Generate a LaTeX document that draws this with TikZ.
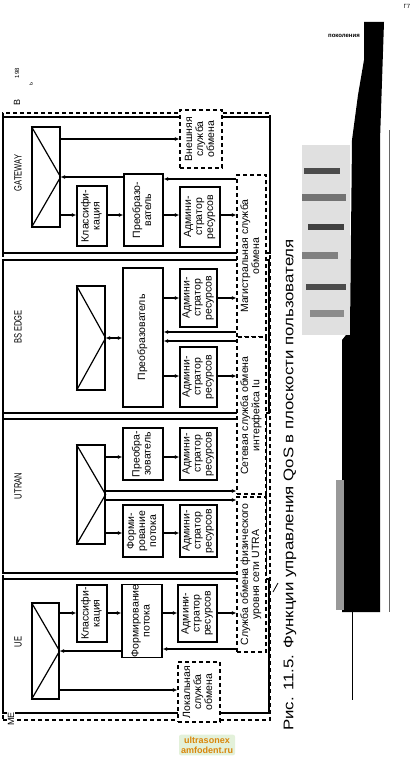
\documentclass[tikz,border=0pt]{standalone}
\usepackage{fontspec}
\setmainfont{Liberation Sans}
\newfontfamily\narrowfont{Liberation Sans}[FakeStretch=0.72]
\newfontfamily\capfont{Liberation Sans}[FakeStretch=1.2]
\usepackage{graphicx}
\usetikzlibrary{arrows.meta, positioning, calc}
\definecolor{wmtext}{HTML}{D9860A}
\definecolor{wmback}{HTML}{E3F1DA}
\newcommand{\vtxt}[1]{\rotatebox{90}{\begin{tabular}{@{}c@{}}#1\end{tabular}}}
\tikzset{
  spot/.style args={#1/#2/#3/#4}{
    at={({(#1+#3)/2},{(#2+#4)/2})},
    minimum width={#3-#1}, minimum height={#4-#2}
  },
  blk/.style={
    rectangle, draw=black, line width=1.4pt, fill=white,
    inner sep=0pt, font={\fontsize{10.5}{11}\selectfont}
  },
  svc/.style={
    rectangle, draw=black, line width=1.2pt, fill=white,
    dash pattern=on 4pt off 3pt, inner sep=0pt,
    font={\fontsize{10.5}{11}\selectfont}
  },
  dom/.style={rectangle, draw=black, line width=1.6pt, inner sep=0pt},
  mux/.style={rectangle, draw=black, line width=1.2pt, fill=white, inner sep=0pt},
  arr/.style={line width=1.2pt, -{Latex[length=4.5pt,width=4pt]}},
  darr/.style={line width=1.2pt, {Latex[length=4.5pt,width=4pt]}-{Latex[length=4.5pt,width=4pt]}}
}
\begin{document}
\begin{tikzpicture}[
    x=1pt, y=-1pt,
    lbl/.style={rotate=90, inner sep=0pt, font={\narrowfont\fontsize{10.5}{11}\selectfont}},
    frm/.style={rectangle, draw=black, line width=1.3pt, dash pattern=on 4pt off 3pt, inner sep=0pt}
  ]
  \useasboundingbox (0,0) rectangle (414,768);

  \node[frm, spot={3/113/270/720}] (frame) {};
  \node[dom, spot={3/117/270/253}] (gw) {};
  \node[dom, spot={3/260/269/413}] (bs) {};
  \node[dom, spot={3/419/266/573}] (ut) {};
  \node[dom, spot={3/579/269/713}] (ue) {};

  \node[lbl] (gwlbl) at (18,173) {GATEWAY};
  \node[lbl] (bslbl) at (18,327) {BS EDGE};
  \node[lbl] (utlbl) at (18,486) {UTRAN};
  \node[lbl] (uelbl) at (18,642) {UE};

  \node[mux, spot={32/127/60/227}] (gwmux) {};
  \node[blk, spot={77/186/107/246}]  (gwcls)  {\vtxt{Классифи-\\кация}};
  \node[blk, spot={124/174/163/246}] (gwconv) {\vtxt{Преобразо-\\ватель}};
  \node[blk, spot={180/187/220/247}] (gwadm)  {\vtxt{Админи-\\стратор\\ресурсов}};

  \node[mux, spot={77/286/105/390}] (bsmux) {};
  \node[blk, spot={123/268/163/407}] (bsconv) {\vtxt{Преобразователь}};
  \node[blk, spot={180/269/217/327}] (bsadm1) {\vtxt{Админи-\\стратор\\ресурсов}};
  \node[blk, spot={180/347/217/407}] (bsadm2) {\vtxt{Админи-\\стратор\\ресурсов}};

  \node[mux, spot={77/445/105/544}] (utmux) {};
  \node[blk, spot={123/428/163/480}] (utconv) {\vtxt{Преобра-\\зователь}};
  \node[blk, spot={180/428/217/480}] (utadm1) {\vtxt{Админи-\\стратор\\ресурсов}};
  \node[blk, spot={123/505/163/557}] (utform) {\vtxt{Форми-\\рование\\потока}};
  \node[blk, spot={180/505/217/557}] (utadm2) {\vtxt{Админи-\\стратор\\ресурсов}};

  \node[mux, spot={32/603/59/699}] (uemux) {};
  \node[blk, spot={77/585/107/642}]  (uecls)  {\vtxt{Классифи-\\кация}};
  \node[blk, spot={122/585/162/657}] (ueform) {\vtxt{Формирование\\потока}};
  \node[blk, spot={178/585/217/642}] (ueadm)  {\vtxt{Админи-\\стратор\\ресурсов}};

  \foreach \m in {gwmux, bsmux, utmux, uemux}
    \draw[line width=1.2pt] (\m.north west) -- (\m.east) -- (\m.south west);

  \node[svc, spot={180/110/222/168}] (extsvc) {\vtxt{Внешняя\\служба\\обмена}};
  \node[svc, spot={237/175/266/337}] (magsvc) {\vtxt{Магистральная служба\\обмена}};
  \node[svc, spot={237/337/266/494}] (netsvc) {\vtxt{Сетевая служба обмена\\интерфейса Iu}};
  \node[svc, spot={237/497/266/652}] (physvc) {\vtxt{Служба обмена физического\\уровня сети UTRA}};
  \node[svc, spot={178/662/220/722}] (locsvc) {\vtxt{Локальная\\служба\\обмена}};

  \draw[arr] (gwmux.east |- 0,139) -- (extsvc.west |- 0,139);
  \draw[arr] (gwmux.east |- 0,215) -- (gwcls.west |- 0,215);
  \draw[arr] (gwcls.east |- 0,215) -- (gwconv.west |- 0,215);
  \draw[arr] (gwconv.east |- 0,215) -- (gwadm.west |- 0,215);
  \draw[arr] (gwadm.east |- 0,215) -- (magsvc.west |- 0,215);
  \draw[arr] (magsvc.west |- 0,179) -- (gwconv.east |- 0,179);
  \draw[arr] (gwconv.west |- gwmux.east) -- (gwmux.east);

  \draw[darr] (bsmux.east) -- (bsconv.west |- bsmux.east);
  \draw[arr] (bsconv.east |- 0,298) -- (bsadm1.west |- 0,298);
  \draw[arr] (bsadm1.east |- 0,298) -- (magsvc.west |- 0,298);
  \draw[arr] (magsvc.west |- 0,332) -- (bsconv.east |- 0,332);
  \draw[arr] (netsvc.west |- 0,341) -- (bsconv.east |- 0,341);
  \draw[arr] (bsconv.east |- 0,376) -- (bsadm2.west |- 0,376);
  \draw[arr] (bsadm2.east |- 0,376) -- (netsvc.west |- 0,376);

  \draw[arr] (utmux.east |- 0,457) -- (utconv.west |- 0,457);
  \draw[arr] (utconv.east |- 0,457) -- (utadm1.west |- 0,457);
  \draw[arr] (utmux.east |- 0,533) -- (utform.west |- 0,533);
  \draw[arr] (utform.east |- 0,533) -- (utadm2.west |- 0,533);
  \draw[arr] (utmux.east |- 0,491) -- (netsvc.west |- 0,491);
  \draw[arr] (utmux.east |- 0,500) -- (physvc.west |- 0,500);

  \draw[arr] (uemux.east |- 0,613) -- (uecls.west |- 0,613);
  \draw[arr] (uecls.east |- 0,613) -- (ueform.west |- 0,613);
  \draw[arr] (ueform.east |- 0,613) -- (ueadm.west |- 0,613);
  \draw[arr] (ueadm.east |- 0,613) -- (physvc.west |- 0,613);
  \draw[arr] (physvc.west |- 0,649) -- (ueform.east |- 0,649);
  \draw[arr] (ueform.west |- uemux.east) -- (uemux.east);
  \draw[arr] (uemux.east |- 0,690) -- (locsvc.west |- 0,690);

  \node[rotate=90, inner sep=0pt, font={\fontsize{9}{10}\selectfont}] (blbl) at (17,102) {В};
  \node[rotate=90, inner sep=1pt, fill=white, font={\fontsize{9}{10}\selectfont}] (melbl) at (11,719) {МЕ};
  \node[rotate=90, inner sep=0pt, font={\fontsize{6}{7}\selectfont}] (pgno) at (17,73) {198};
  \node[rotate=90, inner sep=0pt, font={\fontsize{6}{7}\selectfont}] (pgmark) at (31,84) {ь};

  \node[rotate=90, inner sep=0pt, font={\capfont\fontsize{14}{16}\selectfont}] (cap) at (290,485)
    {Рис. 11.5. Функции управления QoS в плоскости пользователя};

  \fill[black] (364,22) -- (384,22) -- (380,140) -- (380,612) -- (342,612) -- (342,340)
    -- (350,330) -- (352,140) -- (358,95) -- (364,60) -- cycle;
  \fill[black!12] (302,145) rectangle (350,335);
  \fill[black!70] (304,168) rectangle (340,174);
  \fill[black!55] (302,194) rectangle (346,201);
  \fill[black!75] (308,224) rectangle (344,230);
  \fill[black!50] (302,252) rectangle (338,259);
  \fill[black!70] (306,284) rectangle (346,290);
  \fill[black!45] (310,310) rectangle (344,317);
  \fill[black!40] (336,480) rectangle (344,610);
  \draw[black!60, line width=0.6pt] (389,130) -- (389,612);
  \draw[line width=0.8pt] (352,612) -- (352,700);
  \draw[line width=0.8pt] (273,592) -- (278,583);
  \node[inner sep=0pt, font={\bfseries\fontsize{6}{7}\selectfont}] (gen) at (344,36) {поколения};
  \node[inner sep=0pt, font={\fontsize{6}{7}\selectfont}] (corner) at (407,6) {Г7};

  \node[fill=wmback, rounded corners=2pt, text=wmtext, align=center, inner sep=2pt,
        font={\bfseries\fontsize{9}{10}\selectfont}] (wm) at (207,745) {ultrasonex\\amfodent.ru};
\end{tikzpicture}
\end{document}
